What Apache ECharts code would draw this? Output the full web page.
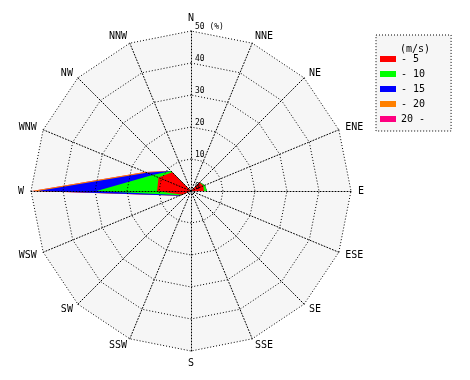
<!DOCTYPE html>
<html><head><meta charset="utf-8">
<script src="https://cdn.jsdelivr.net/npm/echarts@6/dist/echarts.min.js"></script>
<style>html,body{margin:0;padding:0;background:#fff}#c{width:470px;height:380px}</style>
</head><body><div id="c"></div>
<script>
// compass directions (clockwise from N)
const directions = ['N','NNE','NE','ENE','E','ESE','SE','SSE','S','SSW','SW','WSW','W','WNW','NW','NNW'];
// speed classes (m/s)
const speedClasses = ['- 5','- 10','- 15','- 20','20 -'];
const classColors = ['#ff0000','#00ff00','#0000ff','#ff8000','#ff0080'];
// radial tick values (%)
const radialTicks = [0,10,20,30,40,50];
// frequency (%) per direction for each speed class (N, NNE, ... NNW)
const freqTo5   = [0,0,3.8,4.2,4.0,0,0,0,0,0,0,3.0,10.6,11.0,8.3,0];
const freqTo10  = [0,0,0.1,0.5,1.0,0,0,0,0,0,0,0.4,18.9,2.0,0.5,0];
const freqTo15  = [0,0,0,0,0,0,0,0,0,0,0,0.4,18.3,2.0,0,0];
const freqTo20  = [0,0,0,0,0,0,0,0,0,0,0,0,1.9,0.6,0,0];
const freqOver20= [0,0,0,0,0,0,0,0,0,0,0,0,0,0,0,0];

const classData = [freqTo5, freqTo10, freqTo15, freqTo20, freqOver20];
// radar goes counter-clockwise: reorder N, NNW, NW, ...
const radarOrder = directions.map((d, i) => (16 - i) % 16);
const cumulative = classData.map((_, k) =>
  directions.map((d, i) => classData.slice(0, k + 1).reduce((s, arr) => s + arr[i], 0)));
const MONO = 'DejaVu Sans Mono';
const DOT = [1, 2];

const baseRadar = {
  center: [191, 191], radius: 160, startAngle: 90, shape: 'polygon', splitNumber: 5
};
const indicatorsBack = radarOrder.map(i => ({ name: directions[i], min: 0, max: radialTicks[radialTicks.length - 1] }));
const indicatorsFront = radarOrder.map(i => {
  const o = { name: directions[i], min: 0, max: radialTicks[radialTicks.length - 1] };
  if (directions[i] === 'N') o.axisLabel = { show: true, showMinLabel: true, showMaxLabel: true };
  return o;
});

const series = [];
for (let k = classData.length - 1; k >= 0; k--) {
  series.push({
    type: 'radar', radarIndex: 0, name: speedClasses[k], symbol: 'none', z: 2,
    itemStyle: { color: classColors[k] },
    lineStyle: { width: 0, color: classColors[k] },
    areaStyle: { color: classColors[k], opacity: 1 },
    data: [{ name: speedClasses[k], value: radarOrder.map(i => cumulative[k][i]) }]
  });
}

const chart = echarts.init(document.getElementById('c'), null, { renderer: 'canvas' });
chart.setOption({
  animation: false,
  backgroundColor: '#ffffff',
  title: {
    text: '(m/s)', left: 395, top: 39,
    textStyle: { fontFamily: MONO, fontSize: 10, fontWeight: 'normal', color: '#000' }
  },
  legend: {
    data: speedClasses, orient: 'vertical', left: 376, top: 35,
    padding: [19, 26, 7, 4], itemGap: 5, itemWidth: 16, itemHeight: 6,
    icon: 'rect', selectedMode: false,
    backgroundColor: '#f6f6f6', borderColor: '#000', borderWidth: 1, borderType: DOT,
    textStyle: { fontFamily: MONO, fontSize: 10, color: '#000' }
  },
  radar: [
    Object.assign({}, baseRadar, {
      z: 0, indicator: indicatorsBack,
      axisName: { show: false },
      axisLine: { show: false }, splitLine: { show: false },
      splitArea: { show: true, areaStyle: { color: ['#f6f6f6'] } },
      axisLabel: { show: false }
    }),
    Object.assign({}, baseRadar, {
      z: 5, indicator: indicatorsFront, nameGap: 7,
      axisName: { color: '#000', fontFamily: MONO, fontSize: 10 },
      axisLine: { lineStyle: { color: '#000', type: DOT, width: 1 } },
      splitLine: { lineStyle: { color: '#000', type: DOT, width: 1 } },
      splitArea: { show: false },
      axisLabel: {
        show: false, fontFamily: MONO, fontSize: 8, color: '#000',
        showMinLabel: true, showMaxLabel: true, hideOverlap: false,
        align: 'left', verticalAlign: 'bottom', margin: -4,
        formatter: v => v === radialTicks[radialTicks.length - 1] ? v + ' (%)' : String(v)
      }
    })
  ],
  series: series
});
</script></body></html>
